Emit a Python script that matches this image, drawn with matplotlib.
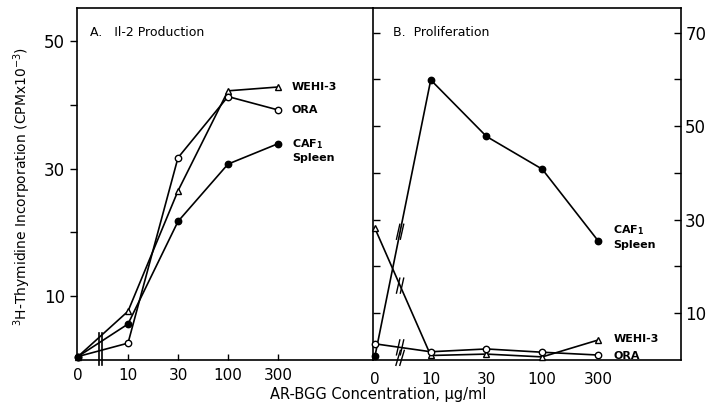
import matplotlib
matplotlib.use("Agg")
import matplotlib.pyplot as plt
import numpy as np

# x categories (drawn at even spacing)
conc_labels = ['0', '10', '30', '100', '300']
xpos = np.arange(len(conc_labels))

# Panel A: Il-2 production (CPM x 10^-3)
a_wehi = [0.5, 7.6, 26.5, 42.2, 42.8]
a_ora = [0.5, 2.6, 31.7, 41.3, 39.2]
a_caf = [0.5, 5.6, 21.7, 30.7, 33.9]

# Panel B: proliferation (CPM x 10^-3)
b_caf = [0.8, 59.9, 47.8, 40.8, 25.5]
b_wehi = [28.1, 0.9, 1.2, 0.6, 4.2]
b_ora = [3.4, 1.7, 2.3, 1.6, 1.0]

plt.rcParams['font.family'] = 'DejaVu Sans'
fig = plt.figure(figsize=(7.07, 4.09), dpi=100)

axA = fig.add_axes([77/707, 49.3/409, 296/707, 351.7/409])
axB = fig.add_axes([373/707, 49.3/409, 308/707, 351.7/409])

lw = 1.2
ms = 4.6


def draw(ax, y, marker, face):
    ax.plot(xpos, y, color='black', lw=lw, marker=marker, ms=ms,
            mfc=face, mec='black', mew=1.0, clip_on=False, zorder=3)


# ---- Panel A ----
draw(axA, a_wehi, '^', 'white')
draw(axA, a_ora, 'o', 'white')
draw(axA, a_caf, 'o', 'black')
axA.set_xlim(-0.02, 5.9)
axA.set_ylim(0, 55.2)
axA.set_yticks([10, 20, 30, 40, 50])
axA.set_yticklabels(['10', '', '30', '', '50'], fontsize=12)
axA.set_xticks(xpos)
axA.set_xticklabels(conc_labels, fontsize=11)
axA.tick_params(axis='y', direction='out', length=5, width=1)
axA.tick_params(axis='x', direction='in', length=4, width=1, pad=6)
axA.spines['right'].set_visible(False)
for s in axA.spines.values():
    s.set_linewidth(1.2)
# axis break on x axis of panel A
for off in (-0.03, 0.03):
    axA.plot([0.45 + off, 0.45 + off], [-0.9, 4.2], color='black', lw=1.2,
             clip_on=False, zorder=4)
axA.text(0.045, 0.93, 'A.   Il-2 Production', transform=axA.transAxes,
         fontsize=9, va='center')

axA.annotate('WEHI-3', xy=(xpos[-1], a_wehi[-1]), xytext=(10, 0),
             textcoords='offset points', va='center', fontsize=8, weight='bold')
axA.annotate('ORA', xy=(xpos[-1], a_ora[-1]), xytext=(10, 0),
             textcoords='offset points', va='center', fontsize=8, weight='bold')
axA.annotate('CAF$_\\mathregular{1}$\nSpleen', xy=(xpos[-1], a_caf[-1]),
             xytext=(10, 5), textcoords='offset points', va='top',
             fontsize=8, weight='bold', linespacing=1.3)

# ---- Panel B ----
draw(axB, b_caf, 'o', 'black')
draw(axB, b_wehi, '^', 'white')
draw(axB, b_ora, 'o', 'white')
axB.set_xlim(-0.036, 5.49)
axB.set_ylim(0, 75.3)
axB.set_yticks([10, 20, 30, 40, 50, 60, 70])
axB.yaxis.tick_right()
axB.set_yticklabels(['10', '', '30', '', '50', '', '70'], fontsize=12)
axB.tick_params(axis='y', left=True, right=True, direction='in',
                length=5, width=1, pad=3)
axB.set_xticks(xpos)
axB.set_xticklabels(conc_labels, fontsize=11)
axB.tick_params(axis='x', length=0, pad=9)
for s in axB.spines.values():
    s.set_linewidth(1.2)

# break marks on panel B lines, between 0 and 10
xb = 0.45
for series in (b_caf, b_wehi, b_ora):
    yb = series[0] + (series[1] - series[0]) * xb
    for off in (-0.035, 0.035):
        axB.plot([xb + off - 0.03, xb + off + 0.03], [yb - 1.6, yb + 1.6],
                 color='black', lw=1.0, zorder=4)
for off in (-0.035, 0.035):
    axB.plot([xb + off - 0.04, xb + off + 0.04], [-1.2, 2.0],
             color='black', lw=1.0, clip_on=False, zorder=4)

axB.text(0.065, 0.93, 'B.  Proliferation', transform=axB.transAxes,
         fontsize=9, va='center')
axB.annotate('CAF$_\\mathregular{1}$\nSpleen', xy=(xpos[-1], b_caf[-1]),
             xytext=(11, 3), textcoords='offset points', va='center',
             fontsize=8, weight='bold', linespacing=1.3)
axB.annotate('WEHI-3', xy=(xpos[-1], b_wehi[-1]), xytext=(11, 0.5),
             textcoords='offset points', va='center', fontsize=8, weight='bold')
axB.annotate('ORA', xy=(xpos[-1], b_ora[-1]), xytext=(11, -0.5),
             textcoords='offset points', va='center', fontsize=8, weight='bold')

fig.text(22/707, 1 - 187/409,
         '$^\\mathregular{3}$H-Thymidine Incorporation (CPMx10$^\\mathregular{-3}$)',
         rotation=90, ha='center', va='center', fontsize=10)
fig.text(378/707, 1 - 395/409, 'AR-BGG Concentration, \u00b5g/ml',
         ha='center', va='center', fontsize=10.5)

fig.savefig('out.png', dpi=100)
